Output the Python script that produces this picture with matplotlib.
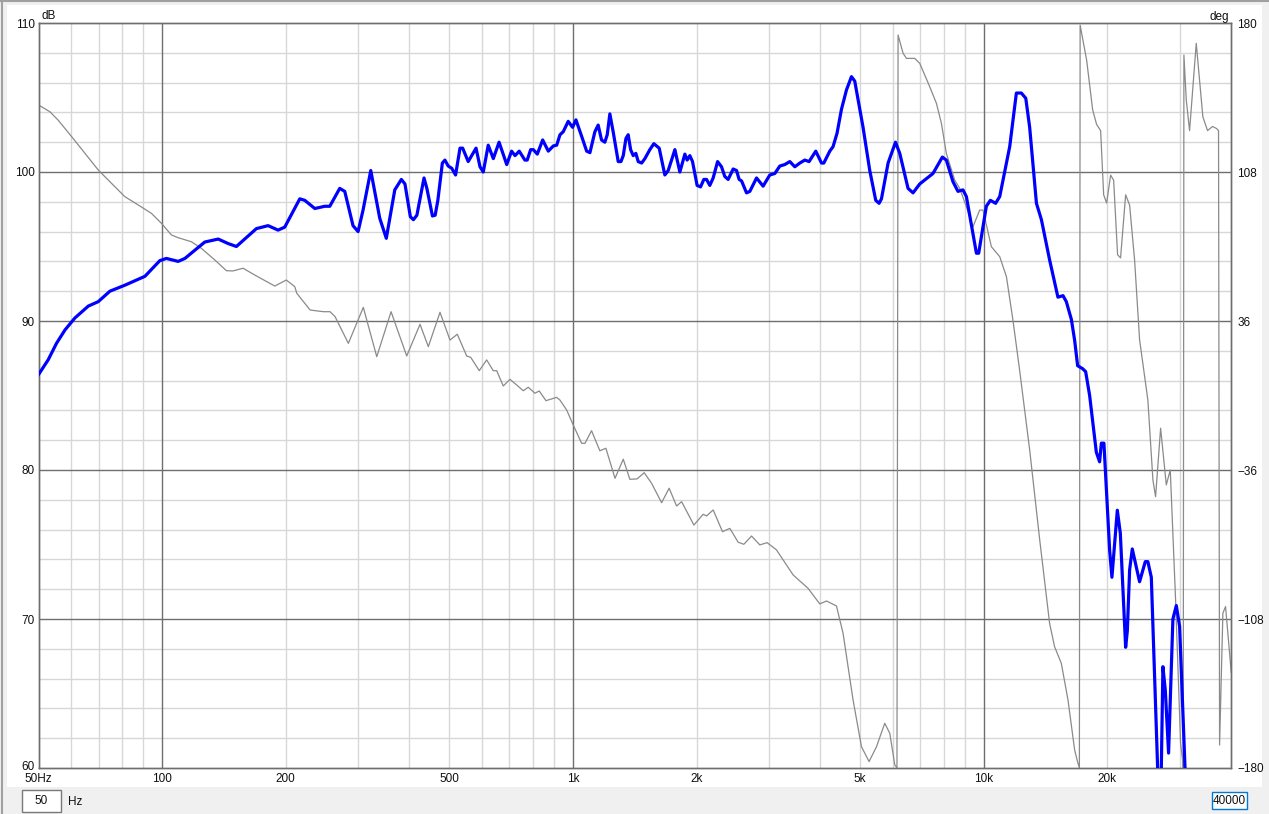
import matplotlib
matplotlib.use("Agg")
import matplotlib.pyplot as plt
from matplotlib.patches import Rectangle
from matplotlib.transforms import ScaledTranslation

plt.rcParams["font.family"] = ["Liberation Sans", "DejaVu Sans"]

# SPL trace (Hz, dB)
spl_freq = [50, 52.8, 55.3, 58.0, 61.3, 66.1, 69.9, 74.6, 81.1, 86.6, 90.8, 98.7,
            102.4, 109.4, 113.6, 127, 136.9, 144.7, 151.6, 169.6, 181.1, 191.5,
            198.8, 216.3, 222.4, 235.3, 248.8, 255.9, 270.6, 278.3, 291.5, 299.9,
            308.4, 322, 338.6, 351.3, 368.4, 382.2, 390, 402, 409, 417, 434, 441,
            455, 462, 469, 481, 488, 497, 507, 518, 531, 539, 556, 581, 594, 605,
            622, 640, 661, 690, 709, 723, 740, 764, 774, 789, 801, 819, 844, 871,
            896, 913, 930, 947, 974, 998, 1017, 1050, 1080, 1100, 1131, 1152, 1174,
            1196, 1212, 1230, 1253, 1289, 1309, 1326, 1346, 1363, 1382, 1402, 1423,
            1442, 1470, 1497, 1539, 1574, 1622, 1674, 1706, 1771, 1821, 1873, 1897,
            1926, 1955, 2006, 2045, 2083, 2115, 2154, 2195, 2250, 2300, 2343, 2387,
            2455, 2502, 2539, 2574, 2646, 2696, 2799, 2904, 3015, 3101, 3189, 3279,
            3373, 3469, 3567, 3668, 3758, 3901, 4029, 4081, 4220, 4298, 4395, 4505,
            4633, 4765, 4854, 5085, 5280, 5460, 5563, 5638, 5851, 6099, 6247, 6544,
            6730, 6988, 7525, 7932, 8111, 8418, 8657, 8903, 9075, 9600, 9723, 10150,
            10380, 10690, 10940, 11570, 12010, 12350, 12660, 12940, 13440, 13820,
            14470, 15160, 15600, 15890, 16350, 16650, 16930, 17410, 17710, 18110,
            18800, 19150, 19340, 19620, 20260, 20520, 21150, 21510, 22160, 22370,
            22660, 23000, 23960, 24740, 25100, 25590, 26550, 27060, 27310, 27680,
            28190, 28880, 29440, 29990, 31010, 32000]
spl_db = [86.4, 87.4, 88.5, 89.4, 90.2, 91.0, 91.3, 92.0, 92.4, 92.75, 93.0, 94.05,
          94.2, 94.0, 94.2, 95.3, 95.5, 95.2, 95.0, 96.2, 96.4, 96.1,
          96.3, 98.2, 98.1, 97.55, 97.7, 97.7, 98.9, 98.7, 96.4, 96.0,
          97.45, 100.1, 96.9, 95.55, 98.8, 99.5, 99.2, 97.0, 96.8, 97.1, 99.6, 98.9,
          97.05, 97.1, 98.1, 100.6, 100.8, 100.4, 100.25, 99.8, 101.6, 101.6, 100.7, 101.6, 100.35, 100.0,
          101.8, 100.9, 102.0, 100.5, 101.4, 101.1, 101.4, 100.8, 100.8, 101.5, 101.5, 101.2, 102.15, 101.4,
          101.75, 101.8, 102.5, 102.7, 103.4, 103.0, 103.5, 102.4, 101.4, 101.3, 102.7, 103.15, 102.15,
          102.0, 102.5, 103.9, 102.7, 100.7, 100.7, 101.1, 102.25, 102.5, 101.5, 101.1, 101.25,
          100.7, 100.6, 100.9, 101.5, 101.9, 101.6, 99.8, 100.1, 101.5, 100.0, 101.2, 100.8,
          101.1, 100.7, 99.1, 99.0, 99.5, 99.5, 99.1, 99.6, 100.7, 100.35, 99.7, 99.5,
          100.2, 100.1, 99.5, 99.4, 98.6, 98.7, 99.6, 99.05, 99.8, 99.9, 100.4, 100.5,
          100.7, 100.35, 100.6, 100.8, 100.7, 101.4, 100.6, 100.6, 101.4, 101.7, 102.6, 104.2,
          105.5, 106.4, 106.1, 103.0, 100.1, 98.1, 97.9, 98.2, 100.6, 102.0, 101.25, 98.9,
          98.6, 99.2, 99.9, 101.0, 100.8, 99.35, 98.7, 98.8, 98.35, 94.55, 94.55, 97.7,
          98.1, 97.9, 98.35, 101.7, 105.3, 105.3, 104.95, 103.0, 97.9, 96.8,
          94.1, 91.6, 91.7, 91.3, 90.1, 88.7, 87.0, 86.8, 86.6, 85.0,
          81.2, 80.55, 81.8, 81.8, 74.6, 72.8, 77.3, 75.75, 68.1, 69.2,
          73.3, 74.7, 72.5, 73.85, 73.85, 72.8, 59.5, 59.8, 66.8, 65.2,
          61.0, 70.0, 70.9, 69.5, 59.0, 55.0]

# phase trace (Hz, degrees)
phase_freq = [50, 53.3, 55.8, 60.2, 64.9, 69.9, 75.3, 81.1, 87.4, 94.2, 99.6, 105.3,
              109.4, 117.8, 124.6, 134.3, 143.4, 148.8, 157.4, 168.1, 188.0, 200.6,
              210.3, 212.7, 229.2, 246.9, 256.3, 263.6, 284.0, 308.8, 333.0, 360.8,
              393.9, 424.4, 444.6, 474.7, 502.0, 523.0, 551.3, 563.8, 591.6, 616.6,
              639.8, 652.2, 676.7, 702.6, 729.5, 757.0, 778.5, 808.2, 827.9, 859.6,
              912.6, 929.8, 947.1, 965.4, 1002, 1050, 1070, 1110, 1163, 1203, 1266,
              1326, 1376, 1433, 1491, 1554, 1644, 1715, 1788, 1839, 1970, 2075, 2115,
              2195, 2313, 2410, 2525, 2607, 2722, 2851, 2970, 3130, 3436, 3737, 3990,
              4143, 4381, 4546, 4808, 5040, 5260, 5483, 5743, 5907, 6075, 6150, 6188,
              6363, 6486, 6795, 6988, 7390, 7672, 7890, 8111, 8500, 8742, 9075, 9419,
              9779, 9961, 10440, 10940, 11360, 11780, 12230, 12940, 13690, 14470,
              14880, 15450, 16040, 16650, 16960, 17100, 17170, 17810, 18420, 18830,
              19260, 19590, 19920, 20370, 20720, 21180, 21540, 22160, 22660, 23300,
              23960, 25100, 25820, 26210, 26960, 27830, 28460, 29320, 30150, 30490,
              30600, 30720, 31130, 31710, 32920, 34160, 35070, 36070, 36890, 37300,
              37520, 38220, 38800, 40060]
phase_deg = [140.4, 137.1, 133.1, 125.1, 117.0, 108.95, 102.5, 96.1, 92.1, 88.0, 83.2, 77.6,
             76.25, 74.3, 71.1, 65.5, 60.3, 60.2, 61.5, 58.2, 52.9, 55.8,
             52.6, 49.4, 41.3, 40.5, 40.5, 38.1, 25.2, 42.6, 18.75, 40.5,
             19.1, 34.4, 23.6, 40.2, 26.8, 29.6, 19.1, 18.45, 12.0, 17.2,
             12.0, 12.0, 4.6, 7.8, 5.1, 2.3, 4.0, 1.1, 2.2, -2.5,
             -0.9, -2.2, -4.6, -7.0, -14.3, -23.1, -23.1, -17.0, -26.7, -25.5, -40.0,
             -30.8, -40.5, -40.3, -37.3, -42.4, -51.8, -44.8, -53.4, -51.3, -62.6, -57.4, -58.2,
             -55.3, -65.8, -64.2, -70.9, -71.9, -67.9, -72.2, -71.1, -74.6, -86.7, -93.2, -100.7,
             -99.3, -101.7, -114.9, -147.1, -169.7, -176.9, -169.7, -158.4, -163.2, -178.5, -179.9, 174.2,
             165.4, 162.9, 162.9, 160.5, 149.2, 141.2, 131.5, 117.0, 104.1, 100.1, 91.2, 81.6,
             89.6, 89.6, 71.9, 67.1, 57.4, 36.5, 12.3, -26.3, -69.8, -110.1,
             -121.4, -129.4, -147.1, -171.3, -177.7, -179.9, 179.0, 162.0, 138.0, 131.0,
             128.0, 97.0, 93.0, 106.5, 104.0, 68.0, 66.5, 97.0, 92.0, 65.5,
             27.0, -2.2, -40.8, -48.9, -15.8, -43.2, -36.0, -98.8, -168.0, -176.0,
             -179.9, 164.5, 142.8, 128.0, 170.2, 134.7, 128.0, 130.0, 129.0, 128.0,
             -168.9, -105.2, -102.0, -134.0]

x_major = [100, 1000, 10000]
x_minor = [60, 70, 80, 90, 200, 300, 400, 500, 600, 700, 800, 900,
           2000, 3000, 4000, 5000, 6000, 7000, 8000, 9000, 20000, 30000]
x_ticks = [50, 100, 200, 500, 1000, 2000, 5000, 10000, 20000]
x_labels = ["50Hz", "100", "200", "500", "1k", "2k", "5k", "10k", "20k"]
db_ticks = [60, 70, 80, 90, 100, 110]
deg_ticks = [-180, -108, -36, 36, 108, 180]

W, H = 1269, 814
FS = 8.5
INK = "#101010"
fig = plt.figure(figsize=(W / 100, H / 100), dpi=100)
fig.patch.set_facecolor("#F0F0F0")

# white chart panel and window border
fig.add_artist(Rectangle((7 / W, 1 - 787 / H), (1262 - 7) / W, (787 - 5) / H,
                         transform=fig.transFigure, facecolor="white", edgecolor="none", zorder=0))
fig.add_artist(plt.Line2D([1.5 / W, 1.5 / W], [0, 1], transform=fig.transFigure, color="#A0A0A0", lw=1.5))
fig.add_artist(plt.Line2D([0, 1], [1 - 1 / H, 1 - 1 / H], transform=fig.transFigure, color="#A0A0A0", lw=1.5))

left, right, top, bottom = 38.5, 1231, 23, 768
ax = fig.add_axes([left / W, 1 - bottom / H, (right - left) / W, (bottom - top) / H])
ax2 = ax.twinx()
ax2.set_zorder(0)
ax.set_zorder(1)
ax.patch.set_visible(False)
ax2.patch.set_facecolor("white")

ax.set_xscale("log")
ax.set_xlim(50, 40000)
ax.set_ylim(60, 110)
ax2.set_ylim(-180, 180)

minor_c, major_c = "#D7D7D7", "#6E6E6E"
for f in x_minor:
    ax2.axvline(f, color=minor_c, lw=1.0, zorder=0)
for k in range(25):
    if k % 5:
        ax2.axhline(-180 + 14.4 * k, color=minor_c, lw=1.0, zorder=0)
for k in range(1, 5):
    ax2.axhline(-180 + 72 * k, color=major_c, lw=1.0, zorder=0.5)
for f in x_major:
    ax2.axvline(f, color=major_c, lw=1.0, zorder=0.5)

ax2.plot(phase_freq, phase_deg, color="#8A8A8A", lw=0.9, zorder=2)
ax.plot(spl_freq, spl_db, color="#0000FF", lw=2.3, zorder=3, solid_joinstyle="round")

for a in (ax, ax2):
    for s in a.spines.values():
        s.set_color(major_c)
        s.set_linewidth(1.0)

ax.set_xticks(x_ticks)
ax.set_xticklabels(x_labels)
ax.xaxis.set_minor_locator(matplotlib.ticker.NullLocator())
ax.set_yticks(db_ticks)
ax2.set_yticks(deg_ticks)
ax.tick_params(axis="x", length=0, pad=3.5, labelsize=FS, colors=INK)
ax.tick_params(axis="y", length=0, pad=2.5, labelsize=FS, colors=INK)
ax2.tick_params(axis="y", length=0, pad=4.5, labelsize=FS, colors=INK)
ax2.xaxis.set_visible(False)

# nudge the bottom "60" up so it clears "50Hz", like the reference
lab60 = ax.get_yticklabels()[0]
lab60.set_transform(lab60.get_transform() + ScaledTranslation(0, 2 / 72, fig.dpi_scale_trans))

fig.text(41 / W, 1 - 16 / H, "dB", fontsize=FS, ha="left", va="center", color=INK)
fig.text(1229 / W, 1 - 17 / H, "deg", fontsize=FS, ha="right", va="center", color=INK)

# bottom controls
fig.add_artist(Rectangle((22 / W, 1 - 812 / H), 39 / W, 22 / H, transform=fig.transFigure,
                         facecolor="white", edgecolor="#7A7A7A", lw=1.0))
fig.text(41.5 / W, 1 - 801 / H, "50", fontsize=FS, ha="center", va="center", color=INK)
fig.text(68 / W, 1 - 802 / H, "Hz", fontsize=FS, ha="left", va="center", color=INK)
fig.add_artist(Rectangle((1212 / W, 1 - 809 / H), 35 / W, 17 / H, transform=fig.transFigure,
                         facecolor="white", edgecolor="#0078D7", lw=1.0))
fig.text(1229.5 / W, 1 - 801 / H, "40000", fontsize=FS, ha="center", va="center", color=INK)

fig.savefig("out.png", dpi=100, facecolor=fig.get_facecolor())
